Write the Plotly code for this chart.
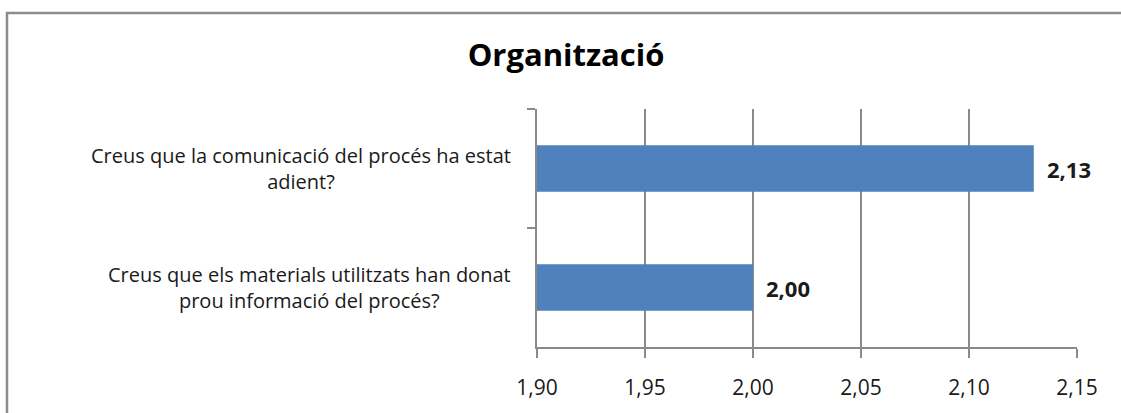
import plotly.graph_objects as go

categories = [
    "Creus que la comunicació del procés ha estat adient?",
    "Creus que els materials utilitzats han donat prou informació del procés?",
]
category_labels = [
    "Creus que la comunicació del procés ha estat<br>adient?",
    "Creus que els materials utilitzats han donat<br>prou informació del procés?",
]
values = [2.13, 2.00]
x_ticks = [1.90, 1.95, 2.00, 2.05, 2.10, 2.15]

BAR = "#4F81BD"
GRID = "#8a8a8a"
FONT = "Open Sans"
TXT = "#1a1a1a"

fig = go.Figure()
fig.add_trace(go.Bar(
    y=categories,
    x=values,
    orientation="h",
    marker=dict(color=BAR, line=dict(width=0)),
    hoverinfo="skip",
))

annotations = []
for cat, lab in zip(categories, category_labels):
    annotations.append(dict(
        x=0, xref="paper", y=cat, yref="y", text=lab, showarrow=False,
        xanchor="right", yanchor="middle", align="center", xshift=-24,
        font=dict(family=FONT, size=20, color=TXT),
    ))
for cat, v in zip(categories, values):
    annotations.append(dict(
        x=v, xref="x", y=cat, yref="y", text="<b>" + f"{v:.2f}".replace(".", ",") + "</b>",
        showarrow=False, xanchor="left", yanchor="middle", xshift=11,
        font=dict(family=FONT, size=22, color=TXT),
    ))

L, R, T, B = 537, 44, 109, 61
W, H = 1121, 413
pw, ph = W - L - R, H - T - B

fig.update_layout(
    width=W, height=H,
    margin=dict(l=L, r=R, t=T, b=B, pad=0),
    paper_bgcolor="white", plot_bgcolor="white",
    separators=",.",
    showlegend=False,
    bargap=0.61,
    title=dict(
        text="<b>Organització</b>", x=566 / W, xref="container", xanchor="center",
        y=1 - 55 / H, yref="container", yanchor="middle",
        font=dict(family=FONT, size=31, color="black"),
    ),
    xaxis=dict(
        range=[1.90, 2.15], tickvals=x_ticks,
        ticktext=[f"{t:.2f}".replace(".", ",") for t in x_ticks],
        showgrid=True, gridcolor=GRID, gridwidth=1.5,
        showline=True, linecolor=GRID, linewidth=1.5,
        ticks="outside", ticklen=9, tickcolor=GRID, tickwidth=1.5,
        ticklabelstandoff=12,
        tickfont=dict(family=FONT, size=21, color=TXT),
        zeroline=False, fixedrange=True,
    ),
    yaxis=dict(
        categoryorder="array", categoryarray=categories, autorange="reversed",
        showticklabels=False, tickson="boundaries",
        ticks="outside", ticklen=8, tickcolor=GRID, tickwidth=1.5,
        showline=True, linecolor=GRID, linewidth=1.5,
        showgrid=False, zeroline=False, fixedrange=True,
    ),
    annotations=annotations,
    shapes=[dict(
        type="rect", xref="paper", yref="paper",
        x0=(7 - L) / pw, x1=(W + 20 - L) / pw,
        y0=(H - B - (H + 20)) / ph, y1=(H - B - 11) / ph,
        line=dict(color="#8c8c8c", width=2.5), fillcolor="rgba(0,0,0,0)", layer="below",
    )],
)

fig.write_html(
    "out.html",
    config={"displayModeBar": False},
    post_script="document.body.style.margin='0';document.body.style.overflow='hidden';",
)
